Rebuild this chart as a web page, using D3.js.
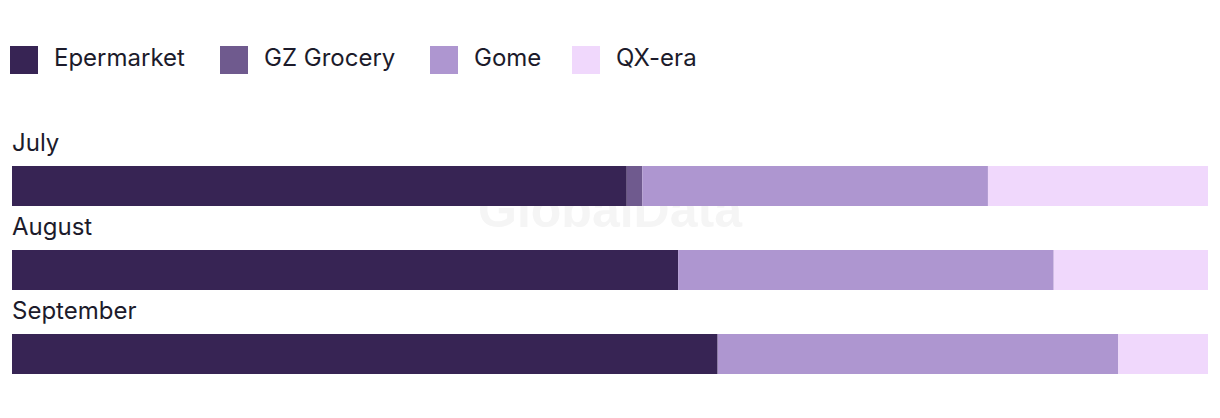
<!DOCTYPE html>
<html><head><meta charset="utf-8">
<script src="https://cdn.jsdelivr.net/npm/d3@7"></script>
<style>body{margin:0;background:#fff;}svg{display:block;font-family:Inter,"Noto Sans",sans-serif;}</style>
</head><body><svg id="c" width="1220" height="418"></svg>
<script>
const categories = ["July", "August", "September"];
const seriesNames = ["Epermarket", "GZ Grocery", "Gome", "QX-era"];
const epermarket = [51.4, 55.7, 59.0];
const gzGrocery = [1.3, 0, 0];
const gome = [28.9, 31.4, 33.5];
const qxEra = [18.4, 12.9, 7.5];
const colors = ["#372454", "#6f5a8e", "#ae96d0", "#f0d8fc"];

const rows = categories.map((c, i) => ({cat: c, "Epermarket": epermarket[i], "GZ Grocery": gzGrocery[i], "Gome": gome[i], "QX-era": qxEra[i]}));
const svg = d3.select("#c");
const x = d3.scaleLinear().domain([0, 100]).range([12, 1208]);
const y = d3.scaleBand().domain(categories).range([124, 376]).paddingInner(0).paddingOuter(0);
const color = d3.scaleOrdinal().domain(seriesNames).range(colors);
const stack = d3.stack().keys(seriesNames)(rows);

// watermark
svg.append("text").attr("x", 610).attr("y", 227).attr("text-anchor", "middle")
  .attr("font-size", 50).attr("font-weight", 700).attr("fill", "#f5f5f5")
  .attr("font-family", "Liberation Sans, Arial, sans-serif").text("GlobalData");

// legend
const legX = [10, 220, 430, 572];
const leg = svg.append("g");
seriesNames.forEach((s, i) => {
  leg.append("rect").attr("x", legX[i]).attr("y", 46).attr("width", 28).attr("height", 28).attr("fill", color(s));
  leg.append("text").attr("x", legX[i] + 44).attr("y", 66).attr("font-size", 24).attr("fill", "#1c1b2b").text(s);
});

// category labels
svg.selectAll("text.cat").data(categories).join("text").attr("class", "cat")
  .attr("x", 12).attr("y", d => y(d) + 27).attr("font-size", 24).attr("fill", "#1c1b2b").text(d => d);

// bars
svg.append("g").selectAll("g").data(stack).join("g").attr("fill", d => color(d.key))
  .selectAll("rect").data(d => d).join("rect")
  .attr("x", d => x(d[0])).attr("width", d => Math.max(0, x(d[1]) - x(d[0])))
  .attr("y", d => y(d.data.cat) + 42).attr("height", 40);
</script></body></html>
